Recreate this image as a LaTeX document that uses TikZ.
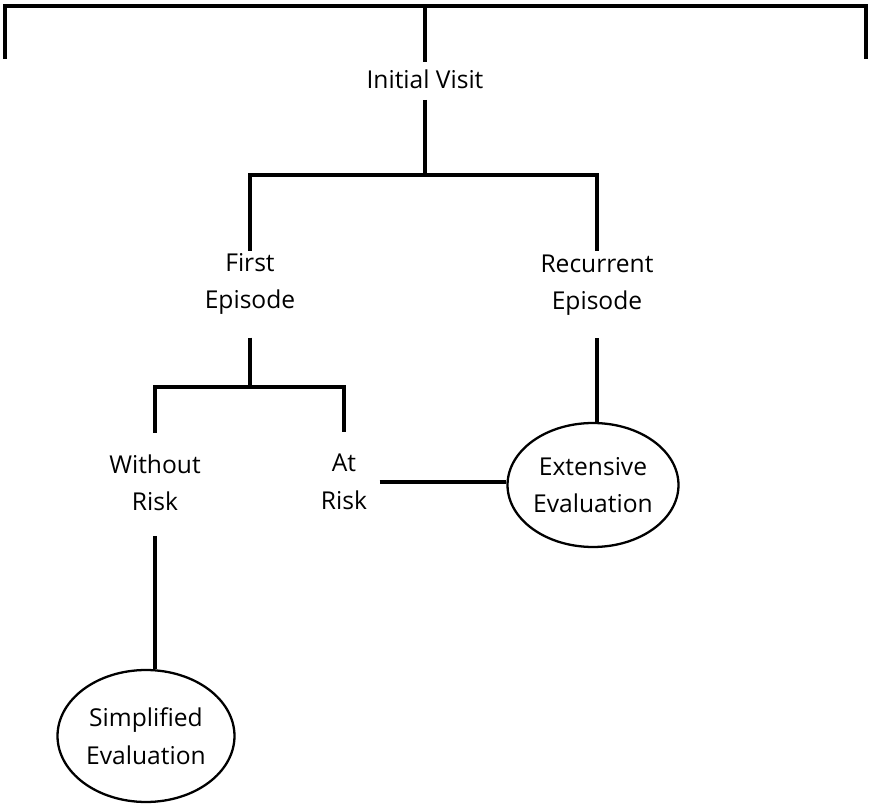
\documentclass[tikz,border=0pt]{standalone}
\usepackage{fontspec}
\setmainfont{Open Sans}
\usetikzlibrary{shapes.geometric}

\begin{document}
\begin{tikzpicture}[x=0.02cm,y=-0.02cm,
    lbl/.style={align=center,inner sep=0pt,outer sep=0pt,font=\fontsize{14}{21.3}\selectfont},
    leaf/.style={ellipse,draw,line width=1.3pt,inner sep=0pt,align=center,font=\fontsize{14}{21.3}\selectfont},
    tree/.style={line width=2pt}]
\useasboundingbox (0,0) rectangle (873,804);

\node[lbl] (visit) at (425,79) {Initial Visit};
\node[lbl] (first) at (250,284) {First\\Episode};
\node[lbl] (recur) at (597,285) {Recurrent\\Episode};
\node[lbl] (norisk) at (155,483) {Without\\Risk};
\node[lbl] (atrisk) at (344,482) {At\\Risk};
\node[leaf,minimum width=3.42cm,minimum height=2.48cm] (ext) at (593,485) {Extensive\\Evaluation};
\node[leaf,minimum width=3.54cm,minimum height=2.64cm] (simp) at (146,736) {Simplified\\Evaluation};

% top bracket
\coordinate (top) at (425,6);
\coordinate (lend) at (5,59);
\coordinate (rend) at (866,59);
\draw[tree] (lend) |- (top) -| (rend);
\draw[tree,shorten >=4.5pt] (top) -- (visit.north);

% first split
\coordinate (fork1) at (425,175);
\draw[tree,shorten <=6.5pt] (visit.south) -- (fork1);
\draw[tree,shorten <=1.5pt,shorten >=2pt] (first.north) |- (fork1) -| (recur.north);

% second split
\coordinate (fork2) at (250,387);
\draw[tree,shorten <=13pt] (first.south) -- (fork2);
\draw[tree,shorten <=12.5pt,shorten >=12.5pt] (norisk.north) |- (fork2) -| (atrisk.north);

% to the evaluations
\draw[tree,shorten <=14pt] (norisk.south) -- (norisk.south |- simp.north);
\draw[tree,shorten <=13pt] (recur.south) -- (recur.south |- ext.north);
\draw[tree,shorten <=7.2pt] (atrisk.east) -- (atrisk.east -| ext.west);
\end{tikzpicture}
\end{document}
